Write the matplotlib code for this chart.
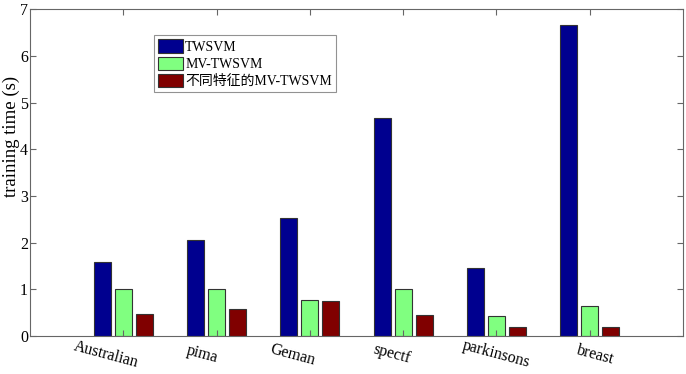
import matplotlib
matplotlib.use('Agg')
import matplotlib.pyplot as plt
import numpy as np

categories = ['Australian', 'pima', 'Geman', 'spectf', 'parkinsons', 'breast']
twsvm = [1.58, 2.05, 2.52, 4.67, 1.45, 6.65]
mv_twsvm = [1.00, 1.01, 0.77, 1.01, 0.42, 0.64]
mv_twsvm_feat = [0.47, 0.57, 0.76, 0.44, 0.19, 0.19]
series_labels = ['TWSVM', 'MV-TWSVM', '不同特征的MV-TWSVM']
colors = ['#00008F', '#80FF80', '#800000']
# horizontal nudges of the category labels, as placed in the original figure
label_shift = [-0.19, -0.15, -0.19, -0.12, 0.0, 0.06]

plt.rcParams['font.family'] = ['Liberation Serif', 'Noto Sans CJK SC']

fig = plt.figure(figsize=(6.86, 3.74), dpi=100)
ax = fig.add_axes([0.0437, 0.1016, 0.952, 0.874])

x = np.arange(1, len(categories) + 1)
width = 0.18
step = 0.225
for i, (vals, lab, col) in enumerate(zip([twsvm, mv_twsvm, mv_twsvm_feat], series_labels, colors)):
    ax.bar(x + (i - 1) * step, vals, width, color=col, edgecolor='#333333',
           linewidth=0.8, label=lab)

ax.set_xlim(0, 7)
ax.set_ylim(0, 7)
ax.set_yticks(range(0, 8))
ax.set_xticks(x)
ax.set_xticklabels([])
for xi, name, dx in zip(x, categories, label_shift):
    ax.text(xi + dx, -0.4, name, rotation=-15, rotation_mode='anchor',
            ha='center', va='center', fontsize=11.5, clip_on=False)
ax.tick_params(axis='y', labelsize=11.5, pad=1.5)
ax.tick_params(direction='in', top=True, right=True, length=4, color='#666666')
for sp in ax.spines.values():
    sp.set_color('#666666')
    sp.set_linewidth(0.8)
fig.text(11 / 686, 1 - 136 / 374, 'training time (s)', rotation=90,
         ha='center', va='center', fontsize=13.5)

leg = ax.legend(loc='upper left', bbox_to_anchor=(0.19, 0.92), fontsize=10,
                frameon=True, fancybox=False, edgecolor='#777777',
                handlelength=1.8, handleheight=1.1, handletextpad=0.15,
                labelspacing=0.2, borderpad=0.3, borderaxespad=0)
leg.get_frame().set_linewidth(0.8)

fig.savefig('out.png', dpi=100)
